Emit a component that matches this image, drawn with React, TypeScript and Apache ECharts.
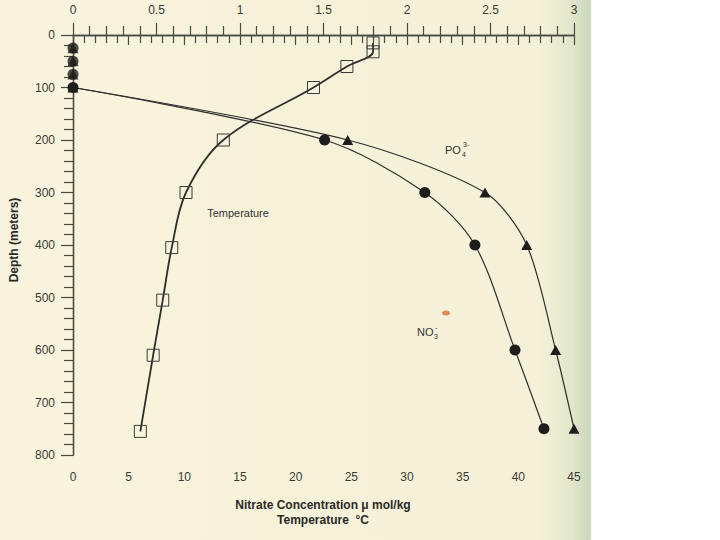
import React, { useEffect, useRef } from "react";
import * as echarts from "echarts";

// Depth (m) of temperature observations and values (°C)
const tempDepth = [15, 32, 60, 100, 200, 300, 405, 505, 610, 755];
const tempValues = [26.95, 26.95, 24.6, 21.6, 13.5, 10.15, 8.87, 8.06, 7.2, 6.05];

// Depth (m) of nutrient observations
const nutrientDepth = [25, 50, 75, 100, 200, 300, 400, 600, 750];
// Nitrate µmol/kg (bottom axis)
const nitrateValues = [0, 0, 0, 0, 22.6, 31.6, 36.1, 39.7, 42.3];
// Phosphate µmol/kg (top axis)
const phosphateValues = [0, 0, 0, 0, 1.645, 2.467, 2.717, 2.89, 3.0];
// number of surface-layer samples (drawn as markers only)
const surfaceCount = 3;

const bottomTicks = { min: 0, max: 45, interval: 5 };
const topTicks = { min: 0, max: 3, interval: 0.5 };
const depthTicks = { min: 0, max: 800, interval: 100 };

const FONT = "'Liberation Sans', Arial, Helvetica, sans-serif";
const INK = "#2e2e2e";
const AXIS = "#4a4a44";

export default function App() {
  const ref = useRef<HTMLDivElement>(null);

  useEffect(() => {
    document.body.style.margin = "0";
    const chart = echarts.init(ref.current!, null, { renderer: "svg" });

    const tempData = tempValues.map((t, i) => [t, tempDepth[i]]);
    const no3Data = nitrateValues.map((n, i) => [n, nutrientDepth[i]]);
    const po4Data = phosphateValues.map((p, i) => [p, nutrientDepth[i]]);

    const labelStyle = { color: "#3a3a36", fontFamily: FONT, fontSize: 12 };

    chart.setOption({
      animation: false,
      backgroundColor: "transparent",
      grid: { left: 73, top: 35, right: 146, bottom: 85, containLabel: false },
      xAxis: [
        {
          type: "value",
          position: "bottom",
          ...bottomTicks,
          axisLine: { show: true, lineStyle: { color: AXIS, width: 1.3 } },
          axisTick: { show: true, inside: false, length: 10, lineStyle: { color: AXIS, width: 1.2 } },
          minorTick: { show: true, splitNumber: 5, length: 8, lineStyle: { color: AXIS, width: 1.2 } },
          axisLabel: { ...labelStyle, margin: 16 },
          splitLine: { show: false },
          minorSplitLine: { show: false },
        },
        {
          type: "value",
          position: "top",
          ...topTicks,
          axisLine: { show: true, lineStyle: { color: AXIS, width: 1.3 } },
          axisTick: { show: true, inside: false, length: 12, lineStyle: { color: AXIS, width: 1.2 } },
          minorTick: { show: true, splitNumber: 5, length: 9, lineStyle: { color: AXIS, width: 1.2 } },
          axisLabel: { ...labelStyle, margin: 19 },
          splitLine: { show: false },
          minorSplitLine: { show: false },
        },
      ],
      yAxis: [
        {
          type: "value",
          inverse: true,
          position: "left",
          ...depthTicks,
          axisLine: { show: true, lineStyle: { color: AXIS, width: 1.3 } },
          axisTick: { show: true, inside: false, length: 12, lineStyle: { color: AXIS, width: 1.2 } },
          minorTick: { show: true, splitNumber: 5, length: 9, lineStyle: { color: AXIS, width: 1.2 } },
          axisLabel: { ...labelStyle, margin: 18 },
          splitLine: { show: false },
          minorSplitLine: { show: false },
        },
        {
          type: "value",
          inverse: true,
          position: "right",
          ...depthTicks,
          axisLine: { show: true, lineStyle: { color: AXIS, width: 1.3 } },
          axisTick: { show: false },
          axisLabel: { show: false },
          splitLine: { show: false },
        },
      ],
      series: [
        {
          name: "Temperature",
          type: "line",
          xAxisIndex: 0,
          yAxisIndex: 0,
          data: tempData,
          smooth: 0.35,
          clip: false,
          symbol: "rect",
          symbolSize: 12,
          lineStyle: { color: INK, width: 1.8 },
          itemStyle: { color: "rgba(0,0,0,0)", borderColor: "#3a3a3a", borderWidth: 1 },
        },
        {
          name: "PO4 surface",
          type: "scatter",
          xAxisIndex: 1,
          yAxisIndex: 0,
          data: po4Data.slice(0, surfaceCount),
          clip: false,
          symbol: "triangle",
          symbolSize: [11, 10],
          itemStyle: { color: "#1e1e1e" },
        },
        {
          name: "PO4",
          type: "line",
          xAxisIndex: 1,
          yAxisIndex: 0,
          data: po4Data.slice(surfaceCount),
          smooth: 0.28,
          clip: false,
          symbol: "triangle",
          symbolSize: [11, 10],
          lineStyle: { color: INK, width: 1.2 },
          itemStyle: { color: "#1e1e1e" },
        },
        {
          name: "NO3 surface",
          type: "scatter",
          xAxisIndex: 0,
          yAxisIndex: 0,
          data: no3Data.slice(0, surfaceCount),
          clip: false,
          symbol: "circle",
          symbolSize: 11,
          itemStyle: { color: "#1e1e1e" },
        },
        {
          name: "NO3",
          type: "line",
          xAxisIndex: 0,
          yAxisIndex: 0,
          data: no3Data.slice(surfaceCount),
          smooth: 0.3,
          clip: false,
          symbol: "circle",
          symbolSize: 11,
          lineStyle: { color: INK, width: 1.2 },
          itemStyle: { color: "#1e1e1e" },
        },
      ],
      graphic: [
        {
          type: "text",
          x: 14,
          y: 240,
          rotation: Math.PI / 2,
          style: {
            text: "Depth (meters)",
            font: `bold 12px ${FONT}`,
            fill: "#2a2a28",
            align: "center",
            verticalAlign: "middle",
          },
        },
        {
          type: "text",
          x: 323,
          y: 505,
          style: {
            text: "Nitrate Concentration \u03bc mol/kg",
            font: `bold 12px ${FONT}`,
            fill: "#2a2a28",
            align: "center",
            verticalAlign: "middle",
          },
        },
        {
          type: "text",
          x: 323,
          y: 520,
          style: {
            text: "Temperature  \u00b0C",
            font: `bold 12px ${FONT}`,
            fill: "#2a2a28",
            align: "center",
            verticalAlign: "middle",
          },
        },
        {
          type: "text",
          x: 238,
          y: 213,
          style: { text: "Temperature", font: `11px ${FONT}`, fill: "#333", align: "center", verticalAlign: "middle" },
        },
        {
          type: "text",
          x: 445,
          y: 150,
          style: { text: "PO", font: `11px ${FONT}`, fill: "#333", align: "left", verticalAlign: "middle" },
        },
        {
          type: "text",
          x: 462,
          y: 154,
          style: { text: "4", font: `7px ${FONT}`, fill: "#333", align: "left", verticalAlign: "middle" },
        },
        {
          type: "text",
          x: 463,
          y: 144,
          style: { text: "3-", font: `7px ${FONT}`, fill: "#333", align: "left", verticalAlign: "middle" },
        },
        {
          type: "text",
          x: 417,
          y: 332,
          style: { text: "NO", font: `11px ${FONT}`, fill: "#333", align: "left", verticalAlign: "middle" },
        },
        {
          type: "text",
          x: 434,
          y: 336,
          style: { text: "3", font: `7px ${FONT}`, fill: "#333", align: "left", verticalAlign: "middle" },
        },
        {
          type: "text",
          x: 435,
          y: 327,
          style: { text: "-", font: `7px ${FONT}`, fill: "#333", align: "left", verticalAlign: "middle" },
        },
        {
          type: "ellipse",
          shape: { cx: 446, cy: 313, rx: 4, ry: 2.5 },
          style: { fill: "#e0885a" },
        },
      ],
    });

    return () => chart.dispose();
  }, []);

  return (
    <div
      ref={ref}
      style={{
        position: "fixed",
        left: 0,
        top: 0,
        width: 720,
        height: 540,
        background:
          "linear-gradient(to right, #f8f4dd 0px, #f5f1d8 540px, #e2e6cb 572px, #c9d6bb 590px, #ffffff 592px, #ffffff 720px)",
      }}
    />
  );
}
